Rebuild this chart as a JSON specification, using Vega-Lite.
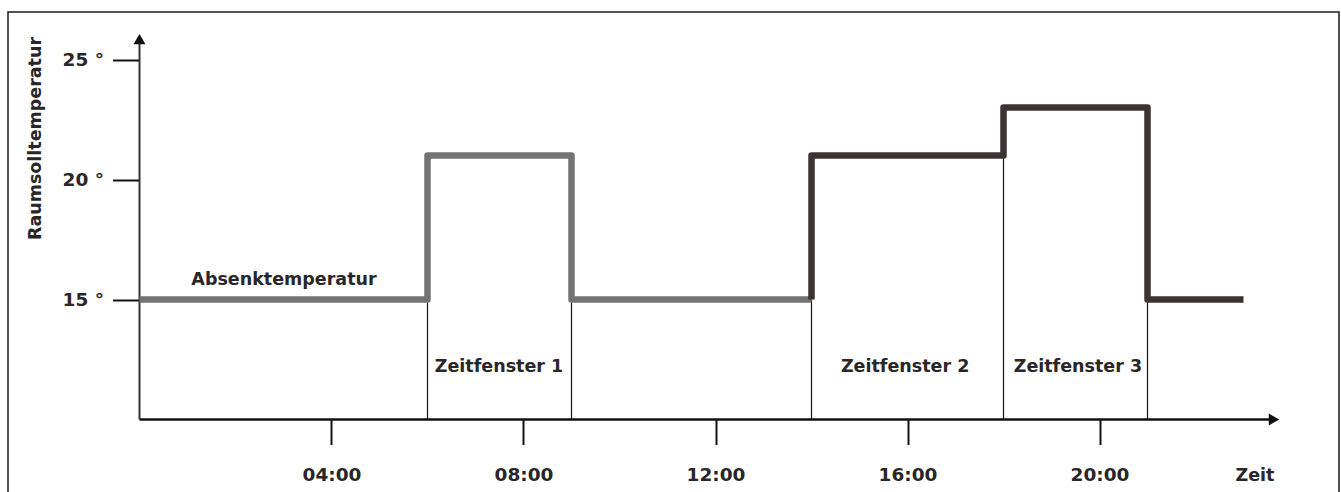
{
  "$schema": "https://vega.github.io/schema/vega-lite/v6.json",
  "width": 1331,
  "height": 490,
  "autosize": {"type": "none"},
  "padding": {"left": 8, "top": 12, "right": 2, "bottom": 0},
  "background": "white",
  "config": {
    "view": {"stroke": "#1a1a1a", "strokeWidth": 1.5},
    "font": "DejaVu Sans"
  },
  "encoding": {
    "x": {
      "field": "t",
      "type": "quantitative",
      "scale": {"domain": [-2.739583, 24.989583], "nice": false, "zero": false},
      "axis": {
        "values": [4, 8, 12, 16, 20],
        "labelExpr": "(datum.value < 10 ? '0' : '') + datum.value + ':00'",
        "offset": -82.5,
        "domain": false,
        "grid": false,
        "tickSize": 25,
        "tickWidth": 2,
        "tickColor": "#111111",
        "labelFont": "DejaVu Sans",
        "labelFontSize": 18.5,
        "labelFontWeight": "bold",
        "labelColor": "#2a2627",
        "labelBaseline": "alphabetic",
        "labelPadding": 35.5,
        "title": null
      }
    },
    "y": {
      "field": "temp",
      "type": "quantitative",
      "scale": {"domain": [6.5625, 26.979167], "nice": false, "zero": false},
      "axis": {
        "values": [15, 20, 25],
        "labelExpr": "datum.value + ' °'",
        "offset": -131.5,
        "domain": false,
        "grid": false,
        "tickSize": 27,
        "tickWidth": 2,
        "tickColor": "#111111",
        "labelFont": "DejaVu Sans",
        "labelFontSize": 18.5,
        "labelFontWeight": "bold",
        "labelColor": "#2a2627",
        "labelPadding": 9,
        "title": "Raumsolltemperatur",
        "titleFont": "DejaVu Sans",
        "titleFontSize": 17.5,
        "titleFontWeight": "bold",
        "titleColor": "#2a2627",
        "titleAngle": -90,
        "titleAlign": "center",
        "titleBaseline": "middle",
        "titleX": -104.5,
        "titleY": 126
      }
    }
  },
  "layer": [
    {
      "data": {"values": [
        {"t": 6, "temp": 10, "temp2": 15},
        {"t": 9, "temp": 10, "temp2": 15},
        {"t": 14, "temp": 10, "temp2": 15},
        {"t": 18, "temp": 10, "temp2": 21},
        {"t": 21, "temp": 10, "temp2": 15}
      ]},
      "mark": {"type": "rule", "color": "#111111", "strokeWidth": 1.2},
      "encoding": {"y2": {"field": "temp2"}}
    },
    {
      "data": {"values": [{"t": 0, "t2": 23.56, "temp": 10}]},
      "mark": {"type": "rule", "color": "#111111", "strokeWidth": 2.5},
      "encoding": {"x2": {"field": "t2"}}
    },
    {
      "data": {"values": [{"t": 0, "temp": 10, "temp2": 25.78}]},
      "mark": {"type": "rule", "color": "#333333", "strokeWidth": 2},
      "encoding": {"y2": {"field": "temp2"}}
    },
    {
      "data": {"values": [
        {"t": 23.635, "temp": 10, "shape": "triangle-right"},
        {"t": 0, "temp": 25.85, "shape": "triangle-up"}
      ]},
      "mark": {"type": "point", "filled": true, "color": "#111111", "opacity": 1, "size": 144},
      "encoding": {"shape": {"field": "shape", "type": "nominal", "scale": null}}
    },
    {
      "data": {"values": [
        {"i": 1, "t": 0, "temp": 15, "series": "Zeitfenster 1"},
        {"i": 2, "t": 6, "temp": 15, "series": "Zeitfenster 1"},
        {"i": 3, "t": 6, "temp": 21, "series": "Zeitfenster 1"},
        {"i": 4, "t": 9, "temp": 21, "series": "Zeitfenster 1"},
        {"i": 5, "t": 9, "temp": 15, "series": "Zeitfenster 1"},
        {"i": 6, "t": 14, "temp": 15, "series": "Zeitfenster 1"},
        {"i": 7, "t": 14, "temp": 15, "series": "Zeitfenster 2/3"},
        {"i": 8, "t": 14, "temp": 21, "series": "Zeitfenster 2/3"},
        {"i": 9, "t": 18, "temp": 21, "series": "Zeitfenster 2/3"},
        {"i": 10, "t": 18, "temp": 23, "series": "Zeitfenster 2/3"},
        {"i": 11, "t": 21, "temp": 23, "series": "Zeitfenster 2/3"},
        {"i": 12, "t": 21, "temp": 15, "series": "Zeitfenster 2/3"},
        {"i": 13, "t": 23, "temp": 15, "series": "Zeitfenster 2/3"}
      ]},
      "mark": {"type": "line", "strokeWidth": 6.5, "strokeJoin": "round", "strokeCap": "butt"},
      "encoding": {
        "color": {
          "field": "series",
          "type": "nominal",
          "scale": {"domain": ["Zeitfenster 1", "Zeitfenster 2/3"], "range": ["#737373", "#3b3331"]},
          "legend": null
        },
        "order": {"field": "i", "type": "quantitative"}
      }
    },
    {
      "data": {"values": [
        {"t": 3.01, "temp": 15.6, "label": "Absenktemperatur"},
        {"t": 7.49, "temp": 11.98, "label": "Zeitfenster 1"},
        {"t": 15.95, "temp": 11.98, "label": "Zeitfenster 2"},
        {"t": 19.55, "temp": 11.98, "label": "Zeitfenster 3"},
        {"t": 23.24, "temp": 7.44, "label": "Zeit"}
      ]},
      "mark": {"type": "text", "font": "DejaVu Sans", "fontSize": 17.5, "fontWeight": "bold", "color": "#2a2627", "align": "center", "baseline": "alphabetic"},
      "encoding": {"text": {"field": "label"}}
    }
  ]
}
